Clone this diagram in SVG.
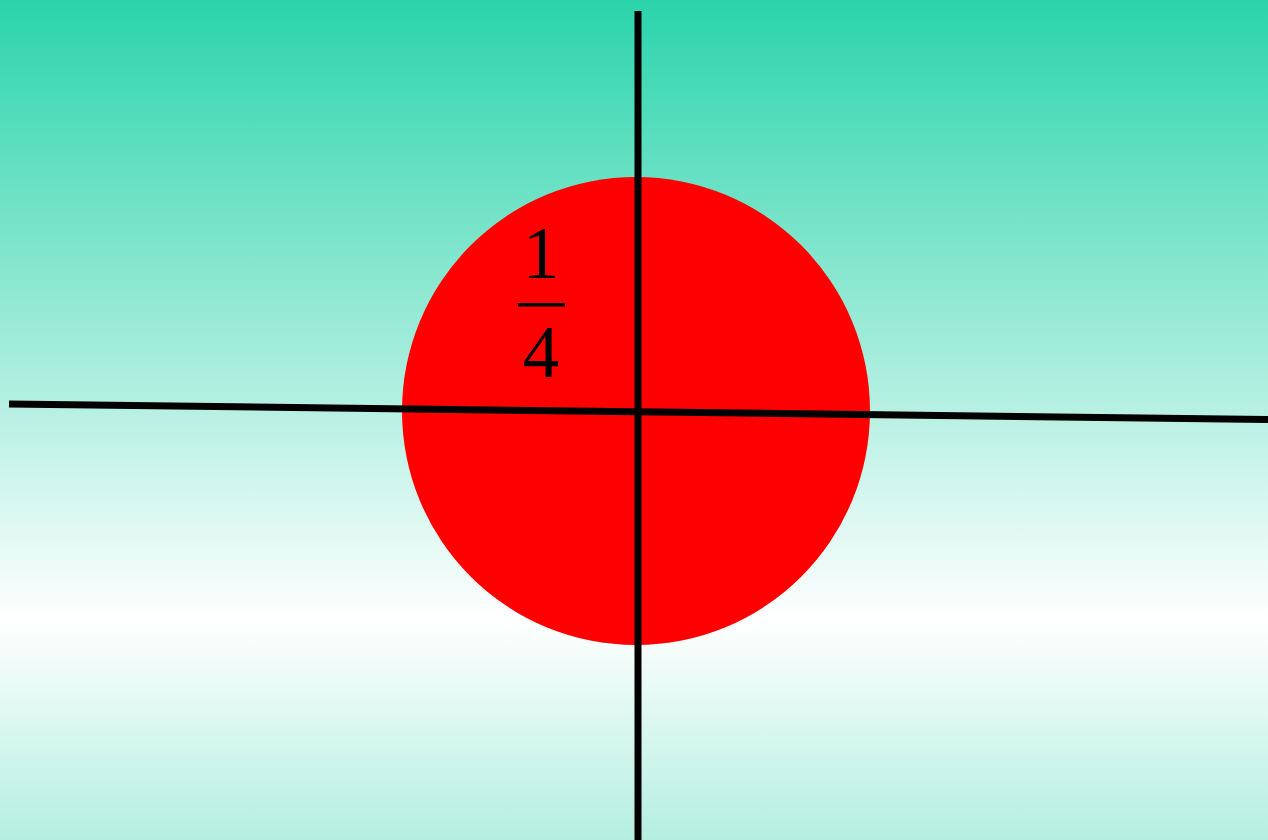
<svg xmlns="http://www.w3.org/2000/svg" width="1268" height="840" viewBox="0 0 1268 840">
<defs>
<linearGradient id="bg" x1="0" y1="0" x2="0" y2="840" gradientUnits="userSpaceOnUse">
<stop offset="0" stop-color="#2ad4ab"/>
<stop offset="0.738" stop-color="#ffffff"/>
<stop offset="1" stop-color="#b3efdf"/>
</linearGradient>
<style>
.axis{stroke:#000;stroke-width:7;fill:none}
.num{font-family:"Liberation Serif","Times New Roman",serif;font-size:73px;fill:#000;text-anchor:middle}
</style>
</defs>
<rect x="0" y="0" width="1268" height="840" fill="url(#bg)"/>
<g id="circle">
<circle cx="636" cy="411" r="234" fill="#ff0000"/>
</g>
<g id="fraction">
<text class="num" x="541" y="278">1</text>
<rect x="518" y="303" width="47" height="3.5" fill="#000"/>
<text class="num" x="541" y="377">4</text>
</g>
<g id="axes">
<line class="axis" x1="638" y1="11" x2="638" y2="840" stroke-width="8"/>
<line class="axis" x1="9" y1="404" x2="1268" y2="419.5" stroke-width="8"/>
</g>
</svg>
